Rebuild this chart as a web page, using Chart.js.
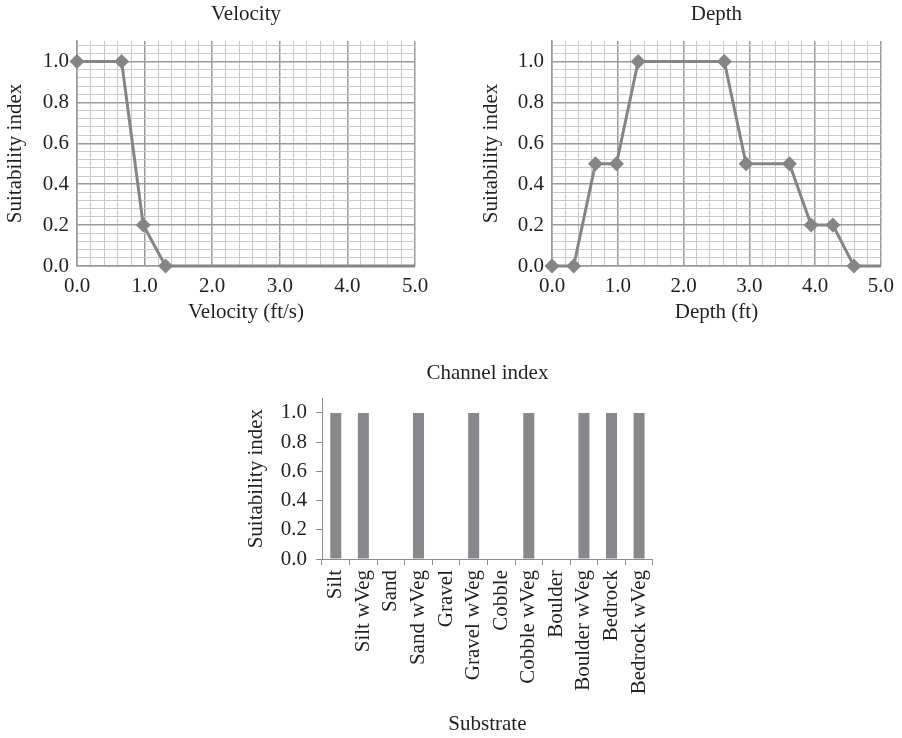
<!DOCTYPE html>
<html>
<head>
<meta charset="utf-8">
<title>Habitat suitability curves</title>
<script src="https://cdn.jsdelivr.net/npm/chart.js@4.4.1/dist/chart.umd.min.js"></script>
<style>
  body { margin: 0; background: #fff; }
  #wrap { position: relative; width: 902px; height: 738px; }
  canvas { position: absolute; }
  #velocityChart { left: 0; top: 0; }
  #depthChart { left: 460px; top: 0; }
  #channelChart { left: 230px; top: 340px; }
</style>
</head>
<body>
<div id="wrap">
  <canvas id="velocityChart" width="440" height="330"></canvas>
  <canvas id="depthChart" width="442" height="330"></canvas>
  <canvas id="channelChart" width="440" height="398"></canvas>
</div>
<script>
// Velocity curve (ft/s)
const velocityX = [0, 0.66, 0.98, 1.31, 5.0];
const velocitySI = [1, 1, 0.2, 0, 0];

// Depth curve (ft)
const depthX = [0, 0.33, 0.66, 0.98, 1.31, 2.62, 2.95, 3.61, 3.94, 4.27, 4.59, 5.0];
const depthSI = [0, 0, 0.5, 0.5, 1, 1, 0.5, 0.5, 0.2, 0.2, 0, 0];

// Channel index by substrate
const substrates = ["Silt", "Silt wVeg", "Sand", "Sand wVeg", "Gravel", "Gravel wVeg",
  "Cobble", "Cobble wVeg", "Boulder", "Boulder wVeg", "Bedrock", "Bedrock wVeg"];
const channelSI = [1, 1, 0, 1, 0, 1, 0, 1, 0, 1, 1, 1];

const FONT = "'Liberation Serif', 'Times New Roman', serif";
const TEXT = "#231f20";
const LINE_GREY = "#858585";
const MAJOR_GRID = "#9a9a9a";
const MINOR_GRID = "#c9c9c9";

function isMultiple(v, step) {
  const r = v / step;
  return Math.abs(r - Math.round(r)) < 1e-6;
}

function font(size) {
  return { family: FONT, size: size, weight: "normal" };
}

// Suitability curve on a fine grid; last point only carries the line to 5.0
function curveChart(id, title, xTitle, xs, ys, lay) {
  const ctx = document.getElementById(id).getContext("2d");
  const last = xs.length - 1;
  return new Chart(ctx, {
    type: "line",
    data: {
      datasets: [{
        data: xs.map((x, i) => ({ x: x, y: ys[i] })),
        borderColor: LINE_GREY,
        backgroundColor: LINE_GREY,
        borderWidth: 3,
        pointStyle: "rectRot",
        pointRadius: (c) => (c.dataIndex === last ? 0 : 7.5),
        pointBorderWidth: 0,
        tension: 0,
        clip: false,
      }],
    },
    options: {
      responsive: false,
      animation: false,
      layout: { padding: { left: 0, right: lay.padRight, top: 0, bottom: lay.padBottom } },
      plugins: {
        legend: { display: false },
        tooltip: { enabled: false },
        title: {
          display: true,
          text: title,
          color: TEXT,
          font: font(21),
          fullSize: false,
          padding: { top: 1.5, bottom: 14.3 },
        },
      },
      scales: {
        x: {
          type: "linear",
          min: 0,
          max: 5,
          afterFit: (s) => { s.height = lay.xHeight; },
          ticks: {
            stepSize: 0.2,
            autoSkip: false,
            maxRotation: 0,
            padding: 8,
            color: TEXT,
            font: font(21),
            callback: (v) => (isMultiple(v, 1) ? v.toFixed(1) : ""),
          },
          grid: {
            drawTicks: false,
            color: (c) => (isMultiple(c.tick.value, 1) ? MAJOR_GRID : MINOR_GRID),
            lineWidth: (c) => (isMultiple(c.tick.value, 1) ? 1.5 : 1),
          },
          border: { color: MAJOR_GRID, width: 1.5 },
          title: { display: true, text: xTitle, color: TEXT, font: font(21), padding: { top: 0, bottom: 0.5 } },
        },
        y: {
          min: 0,
          max: 1.1,
          afterFit: (s) => { s.width = lay.yWidth; },
          ticks: {
            stepSize: 0.04,
            includeBounds: false,
            autoSkip: false,
            padding: 8,
            color: TEXT,
            font: font(21),
            callback: (v) => (isMultiple(v, 0.2) ? v.toFixed(1) : ""),
          },
          grid: {
            drawTicks: false,
            color: (c) => (isMultiple(c.tick.value, 0.2) ? MAJOR_GRID : MINOR_GRID),
            lineWidth: (c) => (isMultiple(c.tick.value, 0.2) ? 1.5 : 1),
          },
          border: { color: MAJOR_GRID, width: 1.5 },
          title: { display: true, text: "Suitability index", color: TEXT, font: font(21), padding: { top: lay.yTitlePad, bottom: 0 } },
        },
      },
    },
  });
}

curveChart("velocityChart", "Velocity", "Velocity (ft/s)", velocityX, velocitySI,
  { yWidth: 77, yTitlePad: 2.4, padRight: 25, padBottom: 4, xHeight: 60 });

curveChart("depthChart", "Depth", "Depth (ft)", depthX, depthSI,
  { yWidth: 92, yTitlePad: 19, padRight: 18, padBottom: 4, xHeight: 60 });

// Channel index bars
new Chart(document.getElementById("channelChart").getContext("2d"), {
  type: "bar",
  data: {
    labels: substrates,
    datasets: [{
      data: channelSI,
      backgroundColor: "#88888c",
      categoryPercentage: 1,
      barPercentage: 0.4,
    }],
  },
  options: {
    responsive: false,
    animation: false,
    layout: { padding: { left: 0, right: 17, top: 0, bottom: 0 } },
    plugins: {
      legend: { display: false },
      tooltip: { enabled: false },
      title: {
        display: true,
        text: "Channel index",
        color: TEXT,
        font: font(21),
        fullSize: false,
        padding: { top: 20.4, bottom: 12.7 },
      },
    },
    scales: {
      x: {
        afterFit: (s) => { s.height = 179; },
        ticks: {
          autoSkip: false,
          minRotation: 90,
          maxRotation: 90,
          padding: 5,
          color: TEXT,
          font: font(21),
        },
        grid: { offset: true, drawOnChartArea: false, tickLength: 6, color: "#8c8c8c" },
        border: { color: "#8c8c8c" },
        title: { display: true, text: "Substrate", color: TEXT, font: font(21), padding: { top: 0, bottom: 0.5 } },
      },
      y: {
        min: 0,
        max: 1.1,
        afterFit: (s) => { s.width = 92; },
        ticks: {
          stepSize: 0.2,
          includeBounds: false,
          padding: 9,
          color: TEXT,
          font: font(21),
          callback: (v) => v.toFixed(1),
        },
        grid: { drawOnChartArea: false, tickLength: 6, color: "#8c8c8c" },
        border: { color: "#8c8c8c" },
        title: { display: true, text: "Suitability index", color: TEXT, font: font(21), padding: { top: 14, bottom: 0 } },
      },
    },
  },
});
</script>
</body>
</html>
